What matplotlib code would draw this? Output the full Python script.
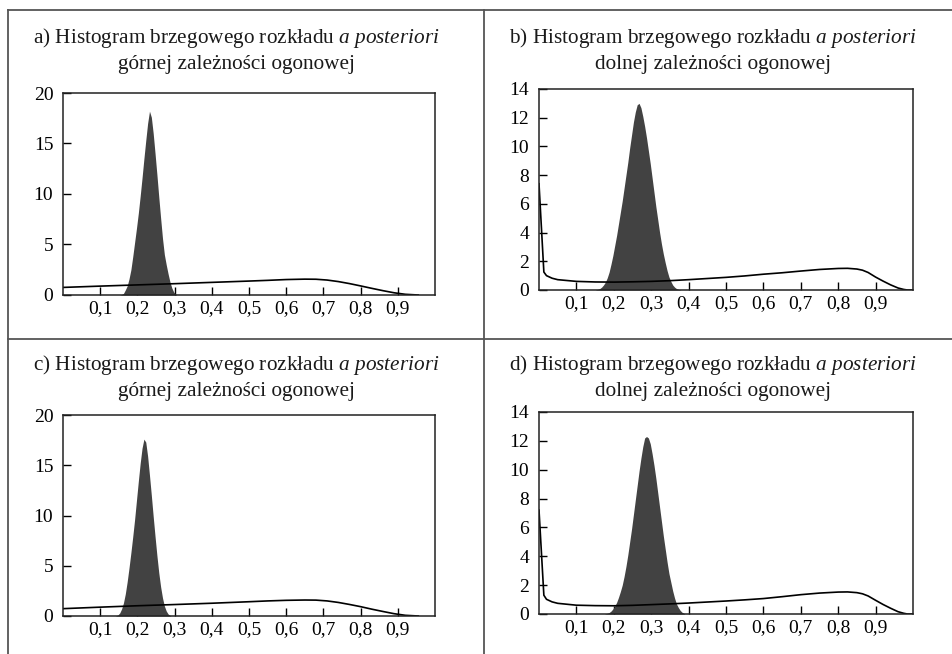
import numpy as np
import matplotlib
matplotlib.use("Agg")
import matplotlib.pyplot as plt
from matplotlib.lines import Line2D

plt.rcParams["font.family"] = ["Liberation Serif", "DejaVu Serif"]
plt.rcParams["mathtext.fontset"] = "custom"
plt.rcParams["mathtext.rm"] = "Liberation Serif"
plt.rcParams["mathtext.it"] = "Liberation Serif:italic"

# ---- data -------------------------------------------------------------
BIN_W = 0.005

# a) upper tail dependence, posterior histogram (first bin left edge 0.150)
hist_a_start = 0.150
hist_a = [0.0, 0.05, 0.15, 0.5, 0.9, 1.6, 2.5, 3.8, 5.2, 6.6, 8.1, 9.8, 11.6,
          13.5, 15.3, 17.0, 18.2, 17.6, 16.0, 14.0, 11.9, 9.7, 7.6, 5.6, 4.0,
          3.0, 2.1, 1.3, 0.7, 0.3, 0.1]
curve_a_x = [0.0, 0.1, 0.2, 0.3, 0.4, 0.5, 0.55, 0.6, 0.65, 0.68, 0.71, 0.74,
             0.77, 0.8, 0.83, 0.86, 0.89, 0.92, 0.955]
curve_a_y = [0.75, 0.88, 1.0, 1.12, 1.25, 1.38, 1.45, 1.53, 1.57, 1.56, 1.48,
             1.33, 1.13, 0.9, 0.66, 0.43, 0.22, 0.07, 0.0]

# b) lower tail dependence (first bin left edge 0.150)
hist_b_start = 0.150
hist_b = [0.02, 0.05, 0.1, 0.2, 0.35, 0.55, 0.85, 1.25, 1.8, 2.4, 3.1, 3.8,
          4.6, 5.4, 6.2, 7.1, 8.0, 8.9, 9.9, 10.8, 11.7, 12.4, 12.9, 13.0,
          12.7, 12.1, 11.4, 10.6, 9.7, 8.8, 7.8, 6.8, 5.8, 4.9, 4.0, 3.2, 2.5,
          1.9, 1.35, 0.9, 0.6, 0.35, 0.2, 0.1, 0.05, 0.02]
curve_b_x = [0.0, 0.013, 0.02, 0.035, 0.05, 0.1, 0.15, 0.2, 0.25, 0.3, 0.35,
             0.4, 0.45, 0.5, 0.55, 0.6, 0.65, 0.7, 0.75, 0.8, 0.825, 0.85,
             0.865, 0.88, 0.9, 0.92, 0.94, 0.96, 0.975, 0.985, 1.0]
curve_b_y = [7.4, 1.25, 1.0, 0.82, 0.72, 0.6, 0.56, 0.55, 0.57, 0.6, 0.65,
             0.72, 0.8, 0.88, 0.98, 1.1, 1.2, 1.32, 1.43, 1.5, 1.51, 1.46,
             1.38, 1.22, 0.9, 0.62, 0.36, 0.14, 0.04, 0.0, 0.0]

# c) upper tail dependence (first bin left edge 0.140)
hist_c_start = 0.140
hist_c = [0.03, 0.1, 0.3, 0.7, 1.3, 2.2, 3.4, 4.8, 6.3, 7.9, 9.6, 11.5, 13.4,
          15.2, 16.7, 17.6, 17.3, 15.9, 14.0, 12.0, 9.9, 7.9, 6.0, 4.3, 2.9,
          1.8, 1.0, 0.5, 0.2, 0.07]
curve_c_x = [0.0, 0.1, 0.2, 0.3, 0.4, 0.5, 0.55, 0.6, 0.65, 0.68, 0.71, 0.74,
             0.77, 0.8, 0.83, 0.86, 0.89, 0.92, 0.955]
curve_c_y = [0.73, 0.88, 1.02, 1.14, 1.27, 1.42, 1.5, 1.56, 1.59, 1.58, 1.5,
             1.35, 1.15, 0.93, 0.68, 0.45, 0.23, 0.07, 0.0]

# d) lower tail dependence (first bin left edge 0.175)
hist_d_start = 0.175
hist_d = [0.02, 0.05, 0.1, 0.2, 0.35, 0.55, 0.8, 1.15, 1.55, 2.0, 2.6, 3.3,
          4.1, 5.0, 5.9, 6.9, 7.9, 8.9, 9.9, 10.8, 11.6, 12.2, 12.3, 12.2,
          11.8, 11.1, 10.3, 9.4, 8.4, 7.4, 6.4, 5.4, 4.5, 3.6, 2.8, 2.2, 1.6,
          1.1, 0.7, 0.45, 0.25, 0.12, 0.05]
curve_d_x = [0.0, 0.013, 0.02, 0.035, 0.05, 0.1, 0.15, 0.2, 0.25, 0.3, 0.35,
             0.4, 0.45, 0.5, 0.55, 0.6, 0.65, 0.7, 0.75, 0.8, 0.825, 0.85,
             0.865, 0.88, 0.9, 0.92, 0.94, 0.96, 0.975, 0.985, 1.0]
curve_d_y = [7.2, 1.3, 1.02, 0.84, 0.74, 0.61, 0.58, 0.57, 0.6, 0.65, 0.7,
             0.76, 0.83, 0.9, 0.98, 1.07, 1.2, 1.34, 1.45, 1.52, 1.53, 1.48,
             1.4, 1.25, 0.95, 0.66, 0.4, 0.16, 0.05, 0.0, 0.0]

x_ticks = [0.1, 0.2, 0.3, 0.4, 0.5, 0.6, 0.7, 0.8, 0.9]
x_tick_labels = ["0,1", "0,2", "0,3", "0,4", "0,5", "0,6", "0,7", "0,8", "0,9"]
y_ticks_upper = [0, 5, 10, 15, 20]
y_ticks_lower = [0, 2, 4, 6, 8, 10, 12, 14]

title_line1 = ["a) Histogram brzegowego rozkładu",
               "b) Histogram brzegowego rozkładu",
               "c) Histogram brzegowego rozkładu",
               "d) Histogram brzegowego rozkładu"]
title_italic = "$\\mathit{a\\ posteriori}$"
title_line2 = ["górnej zależności ogonowej",
               "dolnej zależności ogonowej",
               "górnej zależności ogonowej",
               "dolnej zależności ogonowej"]

# ---- layout -------------------------------------------------------------
W, H = 952, 654
fig = plt.figure(figsize=(W / 100, H / 100), dpi=100)
fig.patch.set_facecolor("white")


def px_axes(left, top, right, bottom):
    return fig.add_axes([left / W, 1 - bottom / H, (right - left) / W,
                         (bottom - top) / H])


panels = [
    dict(box=(63, 93, 435, 295), start=hist_a_start, hist=hist_a,
         cx=curve_a_x, cy=curve_a_y, ymax=20, yt=y_ticks_upper, tb=43),
    dict(box=(539, 89, 913, 290), start=hist_b_start, hist=hist_b,
         cx=curve_b_x, cy=curve_b_y, ymax=14, yt=y_ticks_lower, tb=43),
    dict(box=(63, 415, 435, 616), start=hist_c_start, hist=hist_c,
         cx=curve_c_x, cy=curve_c_y, ymax=20, yt=y_ticks_upper, tb=370),
    dict(box=(539, 412, 913, 614), start=hist_d_start, hist=hist_d,
         cx=curve_d_x, cy=curve_d_y, ymax=14, yt=y_ticks_lower, tb=370),
]

for i, p in enumerate(panels):
    l, t, r, b = p["box"]
    ax = px_axes(l, t, r, b)
    vals = np.asarray(p["hist"])
    centers = p["start"] + BIN_W * (np.arange(len(vals)) + 0.5)
    # posterior histogram drawn as a filled outline through the bin heights
    xs = np.concatenate([[centers[0] - BIN_W / 2], centers,
                         [centers[-1] + BIN_W / 2]])
    ys = np.concatenate([[0.0], vals, [0.0]])
    ax.fill_between(xs, ys, 0, color="#424242", linewidth=0, zorder=2)
    ax.plot(p["cx"], p["cy"], color="black", lw=1.2, zorder=3,
            solid_joinstyle="round")
    ax.set_xlim(0, 1)
    ax.set_ylim(0, p["ymax"])
    ax.set_xticks(x_ticks)
    ax.set_xticklabels(x_tick_labels)
    ax.set_yticks(p["yt"])
    ax.tick_params(direction="in", length=6, width=1.0, labelsize=14,
                   colors="black", zorder=4)
    ax.tick_params(axis="y", pad=7)
    ax.tick_params(axis="x", pad=4)
    for s in ax.spines.values():
        s.set_linewidth(1.1)
        s.set_color("#222222")
        s.set_zorder(4)

    # two-line panel heading
    cx = (l + r) / 2 - 13
    fig.text(cx / W, 1 - p["tb"] / H, title_line1[i] + " " + title_italic,
             ha="center", va="baseline", fontsize=15.3, color="#1a1a1a")
    fig.text(cx / W, 1 - (p["tb"] + 26) / H, title_line2[i],
             ha="center", va="baseline", fontsize=15.3, color="#1a1a1a")

# table frame around the panels
frame_kw = dict(color="#555555", lw=1.3, transform=fig.transFigure)
fig.add_artist(Line2D([8 / W, 1], [1 - 10 / H, 1 - 10 / H], **frame_kw))
fig.add_artist(Line2D([8 / W, 1], [1 - 339 / H, 1 - 339 / H], **frame_kw))
fig.add_artist(Line2D([8 / W, 8 / W], [0, 1 - 10 / H], **frame_kw))
fig.add_artist(Line2D([484 / W, 484 / W], [0, 1 - 10 / H], **frame_kw))

fig.savefig("out.png", dpi=100, facecolor="white")
